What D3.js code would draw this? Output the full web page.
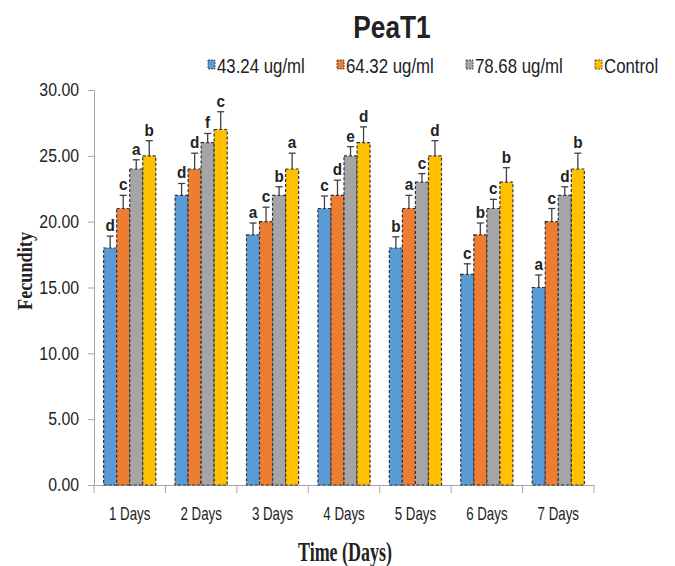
<!DOCTYPE html>
<html lang="en">
<head>
<meta charset="UTF-8">
<title>PeaT1</title>
<script src="https://d3js.org/d3.v7.min.js"></script>
<style>
  body { margin: 0; background: #fff; }
  svg text { font-family: "Liberation Sans", Arial, sans-serif; fill: #222; }
  .serif { font-family: "Liberation Serif", "Times New Roman", serif; font-weight: bold; }
</style>
</head>
<body>
<div id="chart"></div>
<script>
// data
const days = ["1 Days", "2 Days", "3 Days", "4 Days", "5 Days", "6 Days", "7 Days"];
const seriesNames = ["43.24 ug/ml", "64.32 ug/ml", "78.68 ug/ml", "Control"];
const conc43 = [18, 22, 19, 21, 18, 16, 15];
const conc64 = [21, 24, 20, 22, 21, 19, 20];
const conc78 = [24, 26, 22, 25, 23, 21, 22];
const control = [25, 27, 24, 26, 25, 23, 24];
const err43 = [0.9, 0.9, 0.9, 0.95, 0.85, 0.8, 0.95];
const err64 = [1.0, 1.2, 1.1, 1.15, 1.0, 0.9, 1.0];
const err78 = [0.7, 0.7, 0.65, 0.7, 0.65, 0.7, 0.65];
const errCtrl = [1.15, 1.35, 1.2, 1.2, 1.15, 1.1, 1.2];
const let43 = ["d", "d", "a", "c", "b", "c", "a"];
const let64 = ["c", "d", "c", "d", "a", "b", "c"];
const let78 = ["a", "f", "b", "e", "c", "c", "d"];
const letCtrl = ["b", "c", "a", "d", "d", "b", "b"];
const yTicks = [0, 5, 10, 15, 20, 25, 30];

const colors = ["#5B9BD5", "#ED7D31", "#A5A5A5", "#FFC000"];
const values = [conc43, conc64, conc78, control];
const errors = [err43, err64, err78, errCtrl];
const letters = [let43, let64, let78, letCtrl];

const width = 675, height = 566;
const margin = { top: 90, right: 81, bottom: 81, left: 94 };

// the original uses a narrow font, squeeze text horizontally
function condense(sel, k) {
    sel.each(function() {
        const w = this.getComputedTextLength();
        d3.select(this).attr("textLength", w * k).attr("lengthAdjust", "spacingAndGlyphs");
    });
}

const svg = d3.select("#chart").append("svg")
    .attr("width", width)
    .attr("height", height);

const x0 = d3.scaleBand().domain(days)
    .range([margin.left, width - margin.right])
    .paddingInner(0.27).paddingOuter(0.135);
const x1 = d3.scaleBand().domain(seriesNames).range([0, x0.bandwidth()]);
const y = d3.scaleLinear().domain([0, 30]).range([height - margin.bottom, margin.top]);

// axes
const yAxis = svg.append("g")
    .attr("transform", `translate(${margin.left},0)`)
    .call(d3.axisLeft(y).tickValues(yTicks).tickFormat(d3.format(".2f")).tickSize(6).tickPadding(9));
const xAxis = svg.append("g")
    .attr("transform", `translate(0,${height - margin.bottom})`)
    .call(d3.axisBottom(x0).tickSize(0).tickPadding(22));

[yAxis, xAxis].forEach(g => {
    g.select(".domain").attr("stroke", "#A6A6A6");
    g.selectAll(".tick line").attr("stroke", "#A6A6A6");
    g.selectAll("text").style("font-size", "18px").attr("fill", "#222");
});
xAxis.selectAll("text").style("font-size", "19px");
condense(yAxis.selectAll("text"), 0.88);
condense(xAxis.selectAll("text"), 0.7);

// band boundary ticks on x axis
const bounds = days.map(d => x0(d) - x0.step() * x0.paddingInner() / 2)
    .concat([width - margin.right]);
svg.append("g").selectAll("line").data(bounds).join("line")
    .attr("x1", d => d).attr("x2", d => d)
    .attr("y1", height - margin.bottom).attr("y2", height - margin.bottom + 8)
    .attr("stroke", "#A6A6A6");

// bars
const rows = [];
days.forEach((d, i) => seriesNames.forEach((s, j) => rows.push({
    day: d, s, j, v: values[j][i], e: errors[j][i], l: letters[j][i]
})));

svg.append("g").selectAll("rect").data(rows).join("rect")
    .attr("x", d => x0(d.day) + x1(d.s))
    .attr("y", d => y(d.v))
    .attr("width", x1.bandwidth())
    .attr("height", d => y(0) - y(d.v))
    .attr("fill", d => colors[d.j])
    .attr("stroke", "#2E333D")
    .attr("stroke-width", 1.2)
    .attr("stroke-dasharray", "3,2");

// error bars
const err = svg.append("g").attr("stroke", "#404040").attr("stroke-width", 1.3);
err.selectAll(".v").data(rows).join("line")
    .attr("x1", d => x0(d.day) + x1(d.s) + x1.bandwidth() / 2)
    .attr("x2", d => x0(d.day) + x1(d.s) + x1.bandwidth() / 2)
    .attr("y1", d => y(d.v)).attr("y2", d => y(d.v + d.e));
err.selectAll(".c").data(rows).join("line")
    .attr("x1", d => x0(d.day) + x1(d.s) + x1.bandwidth() / 2 - 3.5)
    .attr("x2", d => x0(d.day) + x1(d.s) + x1.bandwidth() / 2 + 3.5)
    .attr("y1", d => y(d.v + d.e)).attr("y2", d => y(d.v + d.e));

// significance letters
const lab = svg.append("g").selectAll("text").data(rows).join("text")
    .attr("x", d => x0(d.day) + x1(d.s) + x1.bandwidth() / 2)
    .attr("y", d => y(d.v + d.e) - 5)
    .attr("text-anchor", "middle")
    .style("font-size", "17px")
    .style("font-weight", "bold")
    .text(d => d.l);
condense(lab, 0.9);

// title
const title = svg.append("text")
    .attr("x", 392).attr("y", 38)
    .attr("text-anchor", "middle")
    .style("font-size", "32px")
    .style("font-weight", "bold")
    .text("PeaT1");
condense(title, 0.82);

// legend
const legend = svg.append("g").selectAll("g").data(seriesNames).join("g")
    .attr("transform", (d, i) => `translate(${208 + i * 129},60)`);
legend.append("rect")
    .attr("width", 7).attr("height", 9)
    .attr("fill", (d, i) => colors[i])
    .attr("stroke", "#2E333D").attr("stroke-width", 0.8).attr("stroke-dasharray", "2,1");
const legText = legend.append("text")
    .attr("x", 9).attr("y", 12.5)
    .style("font-size", "20px")
    .text(d => d);
condense(legText, 0.84);

// axis titles
svg.append("text")
    .attr("class", "serif")
    .attr("x", 345).attr("y", 561)
    .attr("text-anchor", "middle")
    .style("font-size", "28px")
    .attr("textLength", 94).attr("lengthAdjust", "spacingAndGlyphs")
    .text("Time (Days)");

svg.append("text")
    .attr("class", "serif")
    .attr("transform", "translate(32,271) rotate(-90)")
    .attr("text-anchor", "middle")
    .style("font-size", "20px")
    .attr("textLength", 78).attr("lengthAdjust", "spacingAndGlyphs")
    .text("Fecundity");
</script>
</body>
</html>
